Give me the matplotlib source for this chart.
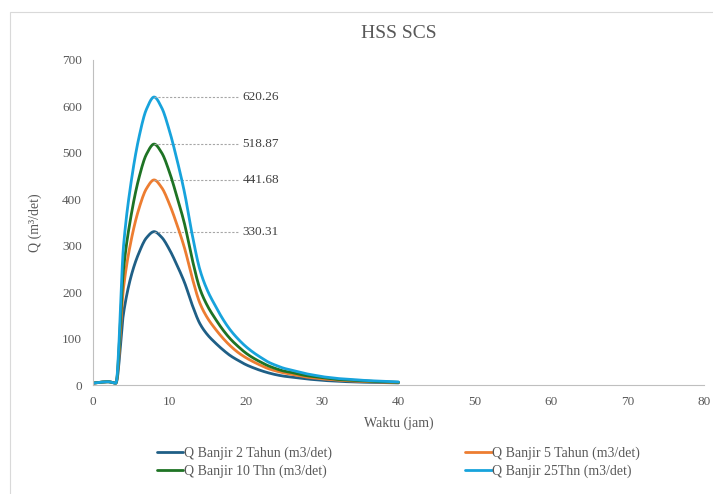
import numpy as np
import matplotlib
matplotlib.use('Agg')
import matplotlib.pyplot as plt
from matplotlib.patches import Rectangle

plt.rcParams['font.family'] = ['Liberation Serif', 'DejaVu Serif']

# waktu (jam)
t = list(range(0, 41))

q2 = [4, 6, 7, 4, 155, 235, 284, 317, 330.31, 318, 292, 258, 220, 172, 132, 108, 91, 76, 63, 53, 44,
      37, 31, 26, 22, 19, 17, 15, 13, 11.5, 10, 9, 8, 7.3, 6.7, 6.2, 5.8, 5.4, 5.1, 4.8, 4.5]
q5 = [4, 6, 7, 4, 210, 312, 379, 423, 441.68, 425, 390, 345, 294, 230, 176, 144, 121, 101, 84, 70, 59,
      50, 42, 35, 30, 26, 23, 20, 17, 15, 13, 12, 10.5, 9.5, 8.6, 7.9, 7.2, 6.6, 6.1, 5.6, 5.2]
q10 = [4, 6, 7, 4, 250, 366, 445, 497, 518.87, 500, 459, 405, 346, 270, 207, 170, 143, 119, 99, 83, 69,
       58, 49, 41, 35, 30, 27, 23, 20, 18, 16, 14, 12, 11, 10, 9, 8.2, 7.5, 6.9, 6.3, 5.8]
q25 = [4, 6, 7, 4, 300, 438, 532, 594, 620.26, 597, 548, 485, 413, 323, 248, 203, 171, 142, 118, 99, 83,
       70, 59, 49, 42, 36, 32, 28, 24, 21, 18, 16, 14, 13, 12, 10.5, 9.5, 8.7, 7.9, 7.2, 6.6]

labels = ['Q Banjir 2 Tahun (m3/det)', 'Q Banjir 5 Tahun (m3/det)',
          'Q Banjir 10 Thn (m3/det)', 'Q Banjir 25Thn (m3/det)']
colors = ['#1f5f86', '#ed7d31', '#1e7324', '#17a3dc']
peaks = ['330.31', '441.68', '518.87', '620.26']


def smooth(x, y, n=12):
    # monotone cubic (pchip) so the line stays smooth like excel without overshoot
    x = np.asarray(x, float)
    y = np.asarray(y, float)
    h = np.diff(x)
    d = np.diff(y) / h
    m = np.zeros_like(y)
    for k in range(1, len(y) - 1):
        if d[k - 1] * d[k] > 0:
            w1 = 2 * h[k] + h[k - 1]
            w2 = h[k] + 2 * h[k - 1]
            m[k] = (w1 + w2) / (w1 / d[k - 1] + w2 / d[k])
    m[0] = d[0]
    m[-1] = d[-1]
    xs, ys = [], []
    s = np.linspace(0, 1, n, endpoint=False)
    for k in range(len(x) - 1):
        h00 = 2 * s ** 3 - 3 * s ** 2 + 1
        h10 = s ** 3 - 2 * s ** 2 + s
        h01 = -2 * s ** 3 + 3 * s ** 2
        h11 = s ** 3 - s ** 2
        xs.extend(x[k] + s * h[k])
        ys.extend(h00 * y[k] + h10 * h[k] * m[k] + h01 * y[k + 1] + h11 * h[k] * m[k + 1])
    xs.append(x[-1])
    ys.append(y[-1])
    return np.array(xs), np.array(ys)


fig = plt.figure(figsize=(7.13, 4.94), dpi=100)
fig.patches.append(Rectangle((10 / 713, -0.1), 1.2, 1 - 12 / 494 + 0.1, transform=fig.transFigure,
                             fill=False, edgecolor='#d9d9d9', linewidth=0.8))
ax = fig.add_axes([93 / 713, 1 - 385 / 494, 611 / 713, 325 / 494])

grey = '#595959'
lines = []
for q, c, lab, pk in zip([q2, q5, q10, q25], colors, labels, peaks):
    xs, ys = smooth(t, q)
    ln, = ax.plot(xs, ys, color=c, lw=2, label=lab, solid_capstyle='round')
    lines.append(ln)
    i = int(np.argmax(q))
    ax.plot([t[i], 19.1], [q[i], q[i]], ls=(0, (2, 1.5)), color='#a6a6a6', lw=0.8)
    ax.text(19.6, q[i], pk, ha='left', va='center', fontsize=9.5, color='#404040')

ax.set_xlim(0, 80)
ax.set_ylim(0, 700)
ax.set_xticks(range(0, 81, 10))
ax.set_yticks(range(0, 701, 100))
ax.tick_params(length=0, labelsize=9.5, labelcolor=grey, pad=8)
for sp in ['top', 'right']:
    ax.spines[sp].set_visible(False)
for sp in ['left', 'bottom']:
    ax.spines[sp].set_color('#bfbfbf')
    ax.spines[sp].set_linewidth(0.8)

ax.set_title('HSS SCS', fontsize=14, color=grey, pad=16)
ax.set_xlabel('Waktu (jam)', fontsize=10, color=grey, labelpad=6)
ax.set_ylabel('Q (m³/det)', fontsize=10, color=grey, labelpad=14)

# legend fills row by row like excel
order = [0, 2, 1, 3]
ax.legend([lines[k] for k in order], [labels[k] for k in order],
          loc='upper center', bbox_to_anchor=(0.5, -0.15), ncol=2, frameon=False,
          fontsize=10, handlelength=1.9, handletextpad=0.05, columnspacing=9.6,
          labelspacing=0.35, labelcolor=grey)

fig.savefig('out.png', dpi=100)
